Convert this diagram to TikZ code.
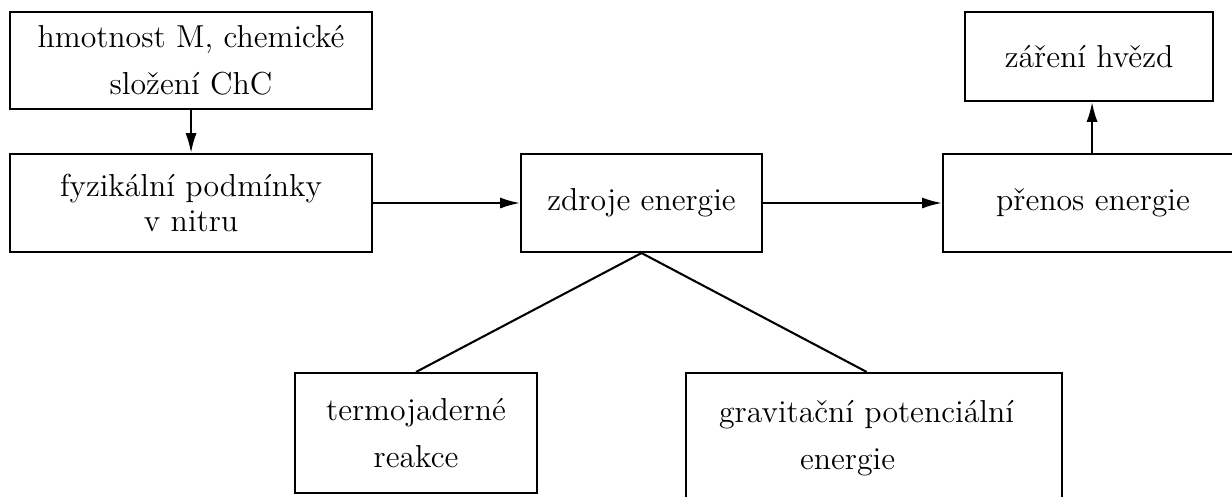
\documentclass[tikz,border=0pt]{standalone}
\usepackage{fontspec}
\usepackage{tikz}
\usetikzlibrary{arrows.meta}

\begin{document}
\begin{tikzpicture}[
  box/.style={draw,line width=0.8pt,align=center,inner sep=0pt,
    font=\fontsize{12.3}{13.8}\selectfont},
  arr/.style={line width=0.8pt,-{Latex[length=7.7pt,width=4.3pt]}},
  link/.style={line width=0.8pt}]
\useasboundingbox (0,0) rectangle (16.761,-6.748);
\clip (0,0) rectangle (16.761,-6.748);

\node[box,minimum width=4.925cm,minimum height=1.320cm] (hmota) at (2.599,-0.823) {hmotnost M, chemické\\[4.3pt] složení ChC};

\node[box,minimum width=4.925cm,minimum height=1.333cm] (podm) at (2.599,-2.762) {fyzikální podmínky\\ v nitru};

\node[box,minimum width=3.279cm,minimum height=1.333cm] (zdroje) at (8.728,-2.762) {zdroje energie};

\node[box,minimum width=4.082cm,minimum height=1.333cm] (prenos) at (14.870,-2.762) {přenos energie};

\node[box,minimum width=3.374cm,minimum height=1.211cm] (zareni) at (14.816,-0.769) {záření hvězd};

\node[box,minimum width=3.292cm,minimum height=1.633cm] (termo) at (5.660,-5.891) {termojaderné\\[4.3pt] reakce};

\node[box,minimum width=5.116cm,minimum height=1.769cm] (grav) at (11.891,-5.959) {gravitační potenciální\hspace*{0.204cm}\\[4.3pt] energie\hspace*{0.721cm}};

\draw[arr] (hmota) -- (podm);
\draw[arr] (podm) -- (zdroje);
\draw[arr] (zdroje) -- (prenos);
\draw[arr] ([xshift=-0.013cm]prenos.north) -- ([xshift=-0.013cm]prenos.north |- zareni.south);

\draw[link] (zdroje.south) -- (termo.north);
\draw[link] (zdroje.south) -- ([xshift=-0.1cm]grav.north);

\end{tikzpicture}
\end{document}
